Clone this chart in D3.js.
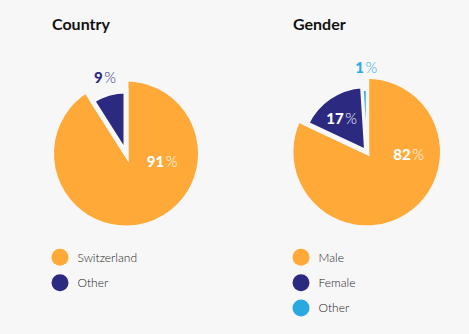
<!DOCTYPE html>
<html>
  <head>
    <meta charset="utf-8">
    <script src="https://d3js.org/d3.v7.min.js"></script>
    <style>
      body {
        margin: 0px;
        background: #f7f7f7;
      }
      .title {
        fill: #111;
        font-size: 16px;
        font-weight: 700;
        font-family: Lato, 'DejaVu Sans', sans-serif;
      }
      .legend text {
        fill: #222;
        font-size: 12px;
        font-weight: 300;
        font-family: Lato, 'DejaVu Sans', sans-serif;
      }
      .pct {
        font-size: 15px;
        font-family: Lato, 'DejaVu Sans', sans-serif;
      }
      .pct .num { font-weight: 900; }
      .pct .sym { font-weight: 300; }
    </style>
  </head>
  <body>
    <svg width="469" height="334"></svg>
    <script>
      const countryLabels = ['Switzerland', 'Other'];
      const countryValues = [91, 9];
      const genderLabels = ['Male', 'Female', 'Other'];
      const genderValues = [82, 17, 1];
      const sliceColors = ['#fea938', '#2b2a80', '#2aa9e1'];

      const bg = '#f7f7f7';
      const svg = d3.select('svg');

      const charts = [
        {
          title: 'Country', labels: countryLabels, values: countryValues,
          cx: 126, cy: 153.5, titleX: 52, legendX: 60,
          radius: [72, 60],
          // label placement: angle (deg, clockwise from top), distance, inside?
          labelAt: [[103, 37, true], [-15.5, 79, false]]
        },
        {
          title: 'Gender', labels: genderLabels, values: genderValues,
          cx: 366.7, cy: 152, titleX: 293, legendX: 301,
          radius: [73.3, 64, 61],
          labelAt: [[94, 42, true], [-36.8, 42, true], [-0.3, 84, false]]
        }
      ];

      const pie = d3.pie().sort(null).value(d => d);

      charts.forEach(c => {
        const g = svg.append('g')
            .attr('transform', `translate(${c.cx},${c.cy})`);

        svg.append('text')
            .attr('class', 'title')
            .attr('x', c.titleX)
            .attr('y', 29.5)
            .text(c.title);

        const arcs = pie(c.values);

        // gaps between slices come from a background-coloured stroke
        const strokeW = d => d.data < 5 ? 2 : 5;
        const arc = d3.arc()
            .innerRadius(0)
            .outerRadius((d, i) => c.radius[i] + strokeW(d) / 2);

        g.selectAll('path').data(arcs)
          .enter().append('path')
            .attr('d', (d, i) => arc(d, i))
            .attr('fill', (d, i) => sliceColors[i])
            .attr('stroke', bg)
            .attr('stroke-width', strokeW)
            .attr('stroke-linejoin', 'miter');

        const lbl = g.selectAll('text.pct').data(arcs)
          .enter().append('text')
            .attr('class', 'pct')
            .attr('text-anchor', 'middle')
            .attr('dy', '0.36em')
            .attr('x', (d, i) => c.labelAt[i][1] * Math.sin(c.labelAt[i][0] * Math.PI / 180))
            .attr('y', (d, i) => -c.labelAt[i][1] * Math.cos(c.labelAt[i][0] * Math.PI / 180))
            .attr('fill', (d, i) => c.labelAt[i][2] ? '#fff' : sliceColors[i]);
        lbl.append('tspan').attr('class', 'num').text(d => d.data);
        lbl.append('tspan').attr('class', 'sym').attr('dx', 1.5).text('%');

        const legend = svg.append('g')
            .attr('class', 'legend')
            .attr('transform', `translate(${c.legendX},257.3)`);
        const item = legend.selectAll('g').data(c.labels)
          .enter().append('g')
            .attr('transform', (d, i) => `translate(0,${i * 25.4})`);
        item.append('circle')
            .attr('r', 8.5)
            .attr('fill', (d, i) => sliceColors[i]);
        item.append('text')
            .attr('x', 17.5)
            .attr('dy', '0.36em')
            .text(d => d);
      });
    </script>
  </body>
</html>
